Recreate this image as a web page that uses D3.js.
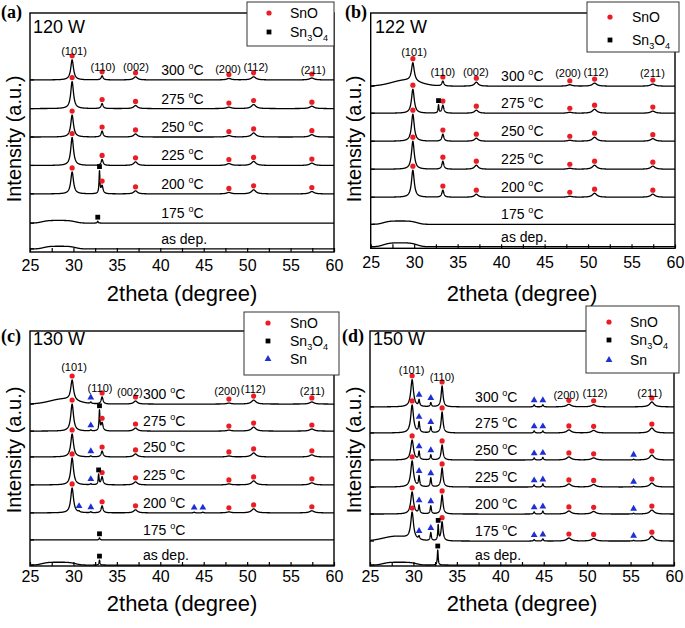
<!DOCTYPE html>
<html><head><meta charset="utf-8">
<script src="https://cdn.jsdelivr.net/npm/d3@7"></script>
<style>body{margin:0;background:#fff} svg text{font-family:"Liberation Sans",Arial,sans-serif;fill:#000}</style>
</head><body><svg id="chart" width="685" height="628"></svg>
<script>
// ---------------- DATA ----------------
const temps = ["300","275","250","225","200","175","as dep."];
const snoHkl = ["(101)","(110)","(002)","(200)","(112)","(211)"];
const snoPos = [29.85, 33.3, 37.15, 47.9, 50.75, 57.45];
const snoHw  = [0.19, 0.13, 0.25, 0.3, 0.3, 0.3];
const snPos  = [30.65, 32.0, 43.9, 44.9, 55.35];
const snHw = 0.08, s34Hw = 0.06;
const xMajor = [25,30,35,40,45,50,55,60];
const xMinor = [27.5,32.5,37.5,42.5,47.5,52.5,57.5];
const powers = ["120 W","122 W","130 W","150 W"];
const panelTags = ["(a)","(b)","(c)","(d)"];
const legend2 = ["SnO","Sn3O4"];
const legend3 = ["SnO","Sn3O4","Sn"];

// panel (a) 120 W
const offsetsA = [72.0, 60.0, 48.1, 36.2, 24.3, 12.1, 1.3];
const snoA = [[8.4,1.7,1.3,0.6,1.3,0.8],[11.3,2.1,1.3,0.6,1.7,1.0],[9.2,2.5,1.3,0.6,1.7,1.0],[11.7,2.5,1.5,0.8,1.7,1.0],[9.2,3.3,1.3,0.6,1.7,1.0],null,null];
const snA = [null,null,null,null,null,null,null];
const s34A = [null,null,null,null,[33.0,9.2],[32.8,0.8],null];
const humpA = [null,null,null,null,null,[28.3,1.1,2.1,4],[28.4,1.1,2.0,4]];

// panel (b) 122 W
const offsetsB = [68.9, 57.4, 45.5, 33.6, 21.7, 10.2, 0.7];
const snoB = [[7.8,2.1,1.7,0.6,1.3,0.9],[10.2,3.4,1.3,0.4,1.7,0.9],[11.5,3.0,1.3,0.4,1.7,1.1],[11.9,3.4,1.7,0.4,1.7,1.3],[11.5,3.0,1.3,0.4,1.7,1.3],null,null];
const snB = [null,null,null,null,null,null,null];
const s34B = [null,[32.8,3.4],null,null,null,null,null];
const humpB = [[29.0,2.5,1.6,2],null,null,null,null,[28.4,1.4,2.1,4],[28.4,1.6,2.1,4]];

// panel (c) 130 W
const offsetsC = [68.9, 57.4, 46.4, 34.5, 22.6, 11.1, 0.4];
const snoC = [[8.6,3.0,1.3,0.4,1.7,0.9],[11.5,3.4,1.3,0.4,1.7,0.9],[9.8,2.5,1.3,0.4,1.7,0.9],[11.5,3.4,1.3,0.4,1.7,0.9],[10.6,3.0,1.3,0.4,1.7,0.9],null,null];
const snC = [[0,0.6,0,0,0],[0,0.4,0,0,0],[0,0.4,0,0,0],[0,0.4,0,0,0],[0.4,0.4,0.3,0.3,0],null,null];
const s34C = [null,[33.0,8.5],null,[32.9,4.3],null,[33.0,0.9],[33.0,2.1]];
const humpC = [[28.8,2.1,1.5,2],null,null,null,null,null,[28.3,1.2,2.1,4]];

// panel (d) 150 W
const offsetsD = [67.7, 56.6, 45.1, 33.6, 22.1, 10.6, 0.4];
const snoD = [[11.5,8.9,0,1.1,0.9,2.1],[11.9,8.9,0,1.3,1.1,2.1],[8.5,6.4,0,1.3,0.9,2.1],[11.1,8.1,0,1.3,1.1,1.7],[9.4,8.1,0,1.3,1.1,1.7],[11.4,8.1,0,1.3,1.1,2.1],null];
const snD = [[2.6,1.7,0.9,0.9,0],[4.3,2.6,0.9,0.9,0],[3.4,2.1,0.9,1.1,0.3],[4.3,3.8,0.9,1.3,0.3],[3.4,3.4,0.9,1.3,0.3],[1.3,3.4,0.6,0.9,0.3],null];
const s34D = [null,null,null,null,null,[32.85,6.4],[32.8,6.4]];
const humpD = [null,null,null,null,null,[28.0,2.0,1.5,2],[28.4,1.2,2.1,4]];

// ---------------- DRAWING ----------------
const RED = "#ec1c24", BLUE = "#1f2fd6";
const svg = d3.select("#chart");

function build(offsets, sno, sn, s34, hump) {
  return temps.map((t, i) => ({temp: t, offset: offsets[i], sno: sno[i], sn: sn[i], s34: s34[i], hump: hump[i]}));
}
function val(t, xv) {
  let v = t.offset;
  if (t.sno) t.sno.forEach((h, j) => { if (h > 0) v += h / (1 + ((xv - snoPos[j]) / snoHw[j]) ** 2); });
  if (t.sn) t.sn.forEach((h, j) => { if (h > 0) v += h / (1 + ((xv - snPos[j]) / snHw) ** 2); });
  if (t.s34) v += t.s34[1] / (1 + ((xv - t.s34[0]) / s34Hw) ** 2);
  if (t.hump) {
    const [c, h, s, p] = t.hump;
    v += p === 2 ? h * Math.exp(-((xv - c) ** 2) / (2 * s * s)) : h * Math.exp(-((Math.abs(xv - c) / s) ** p));
  }
  return v;
}
function phaseText(sel, name, fs) {
  if (name === "Sn3O4") {
    sel.append("tspan").text("Sn");
    sel.append("tspan").attr("font-size", fs * 0.65).attr("dy", fs * 0.3).text("3");
    sel.append("tspan").attr("dy", -fs * 0.3).text("O");
    sel.append("tspan").attr("font-size", fs * 0.65).attr("dy", fs * 0.3).text("4");
  } else sel.text(name);
}
function marker(g, kind, cx, cy) {
  if (kind === "sno") g.append("circle").attr("cx", cx).attr("cy", cy).attr("r", 2.6).attr("fill", RED);
  else if (kind === "s34") g.append("rect").attr("x", cx - 2.4).attr("y", cy - 2.4).attr("width", 4.8).attr("height", 4.8).attr("fill", "#000");
  else g.append("path").attr("d", d3.symbol(d3.symbolTriangle, 20)()).attr("transform", `translate(${cx},${cy})`).attr("fill", BLUE);
}

const xs = d3.range(0, 3501).map(i => 25 + i * 0.01);

function drawPanel(idx, cfg, traces, legendItems) {
  const g = svg.append("g");
  const x = d3.scaleLinear([25, 60], [cfg.L, cfg.R]);
  const y = d3.scaleLinear([0, 100], [cfg.B, cfg.T]);
  const cid = "clip" + idx;
  svg.append("clipPath").attr("id", cid).append("rect")
    .attr("x", cfg.L).attr("y", cfg.T).attr("width", cfg.R - cfg.L).attr("height", cfg.B - cfg.T);

  const line = d3.line().x(d => x(d[0])).y(d => y(d[1]));
  const tg = g.append("g").attr("clip-path", `url(#${cid})`);
  traces.forEach(t => {
    tg.append("path").attr("d", line(xs.map(xv => [xv, val(t, xv)])))
      .attr("fill", "none").attr("stroke", "#000").attr("stroke-width", 1.3).attr("stroke-linejoin", "round");
  });
  const mg = g.append("g");
  traces.forEach(t => {
    if (t.sno) t.sno.forEach((h, j) => { if (h > 0) marker(mg, "sno", x(snoPos[j]), y(val(t, snoPos[j])) - 4); });
    if (t.sn) t.sn.forEach((h, j) => { if (h > 0) marker(mg, "sn", x(snPos[j]), y(val(t, snPos[j])) - 4.5); });
    if (t.s34) marker(mg, "s34", x(t.s34[0]), y(val(t, t.s34[0])) - 4);
  });
  traces.forEach(t => {
    const tx = g.append("text").attr("x", x(cfg.labelX)).attr("y", y(t.offset) - 5).attr("font-size", 14).attr("fill", "#000");
    if (t.temp === "as dep.") tx.text("as dep.");
    else {
      tx.append("tspan").text(t.temp + " ");
      tx.append("tspan").attr("font-size", 9).attr("dy", -6).text("o");
      tx.append("tspan").attr("dy", 6).text("C");
    }
  });
  cfg.hklIdx.forEach((j, k) => {
    g.append("text").attr("x", x(cfg.hklPos[k][0])).attr("y", y(cfg.hklPos[k][1])).attr("fill", "#000")
      .attr("text-anchor", "middle").attr("dominant-baseline", "central").attr("font-size", 11).text(snoHkl[j]);
  });
  g.append("rect").attr("x", cfg.L).attr("y", cfg.T).attr("width", cfg.R - cfg.L).attr("height", cfg.B - cfg.T)
    .attr("fill", "none").attr("stroke", "#000").attr("stroke-width", 1.4);
  traces.forEach(t => {
    g.append("line").attr("x1", cfg.L).attr("x2", cfg.L + 4).attr("y1", y(t.offset)).attr("y2", y(t.offset))
      .attr("stroke", "#000").attr("stroke-width", 1.2);
  });
  const ax = g.append("g").attr("transform", `translate(0,${cfg.B})`)
    .call(d3.axisBottom(x).tickValues(xMajor.concat(xMinor)).tickSizeInner(-4).tickSizeOuter(0)
      .tickPadding(cfg.tickPad).tickFormat(d => xMajor.includes(d) ? d : ""));
  ax.select(".domain").remove();
  ax.selectAll("line").attr("stroke-width", 1.2);
  ax.selectAll("text").attr("font-size", 16).attr("font-family", '"Liberation Sans",Arial,sans-serif').attr("fill", "#000");
  g.append("text").attr("x", cfg.xLab[0]).attr("y", cfg.xLab[1]).attr("text-anchor", "middle")
    .attr("dominant-baseline", "central").attr("font-size", 22).text("2theta (degree)");
  g.append("text").attr("transform", `translate(${cfg.yLab[0]},${cfg.yLab[1]}) rotate(-90)`).attr("text-anchor", "middle")
    .attr("dominant-baseline", "central").attr("font-size", 20).text("Intensity (a.u.)");
  g.append("text").attr("x", cfg.tag[0]).attr("y", cfg.tag[1]).attr("dominant-baseline", "central")
    .attr("font-size", 18).attr("font-weight", "bold").style("font-family", '"Liberation Serif","Times New Roman",serif').text(panelTags[idx]);
  g.append("text").attr("x", cfg.power[0]).attr("y", cfg.power[1]).attr("dominant-baseline", "central")
    .attr("font-size", 18).text(powers[idx]);
  const lg = cfg.legend;
  g.append("rect").attr("x", lg.x0).attr("y", lg.y0).attr("width", lg.x1 - lg.x0).attr("height", lg.y1 - lg.y0)
    .attr("fill", "#fff").attr("stroke", "#333").attr("stroke-width", 1);
  legendItems.forEach((name, k) => {
    marker(g, name === "SnO" ? "sno" : name === "Sn" ? "sn" : "s34", lg.mx, lg.rows[k]);
    const t = g.append("text").attr("x", lg.tx).attr("y", lg.rows[k] + 5).attr("font-size", 14);
    phaseText(t, name, 14);
  });
}

const cfgA = {L:30, R:334, T:13, B:252, tickPad:8, xLab:[182,293], yLab:[14,139], tag:[1,12], power:[33,27],
  legend:{x0:247, x1:334, y0:2, y1:46, rows:[13,32], mx:269, tx:290}, labelX:40.1, hklIdx:[0,1,2,3,4,5],
  hklPos:[[30.07,84.1],[33.4,77.4],[37.2,77.4],[47.8,76.6],[51.0,77.4],[57.6,76.2]]};
const cfgB = {L:370.7, R:675, T:13, B:248.3, tickPad:8, xLab:[522,293], yLab:[354,139], tag:[345,12], power:[375,27],
  legend:{x0:587, x1:679, y0:2, y1:52, rows:[17,40], mx:610, tx:632}, labelX:40.0, hklIdx:[0,1,2,3,4,5],
  hklPos:[[29.98,83.4],[33.3,74.9],[37.1,74.9],[47.7,74.5],[50.9,74.9],[57.4,74.5]]};
const cfgC = {L:30, R:334, T:331, B:566, tickPad:5, xLab:[182,603], yLab:[14,450], tag:[1,336], power:[33,339],
  legend:{x0:244, x1:339, y0:312, y1:375, rows:[323,341,359], mx:268, tx:290}, labelX:38.0, hklIdx:[0,1,2,3,4,5],
  hklPos:[[30.07,84.7],[33.06,75.7],[36.5,74],[47.7,74.5],[50.7,75.3],[57.5,74.5]]};
const cfgD = {L:370, R:674, T:331, B:566, tickPad:5, xLab:[522,603], yLab:[354,450], tag:[342,336], power:[373,339],
  legend:{x0:586, x1:679, y0:306, y1:373, rows:[322,340,360], mx:609, tx:630}, labelX:37.1, hklIdx:[0,1,3,4,5],
  hklPos:[[29.8,83.4],[33.3,80.4],[47.6,72.8],[50.9,73.6],[57.2,73.6]]};

drawPanel(0, cfgA, build(offsetsA, snoA, snA, s34A, humpA), legend2);
drawPanel(1, cfgB, build(offsetsB, snoB, snB, s34B, humpB), legend2);
drawPanel(2, cfgC, build(offsetsC, snoC, snC, s34C, humpC), legend3);
drawPanel(3, cfgD, build(offsetsD, snoD, snD, s34D, humpD), legend3);
</script></body></html>
